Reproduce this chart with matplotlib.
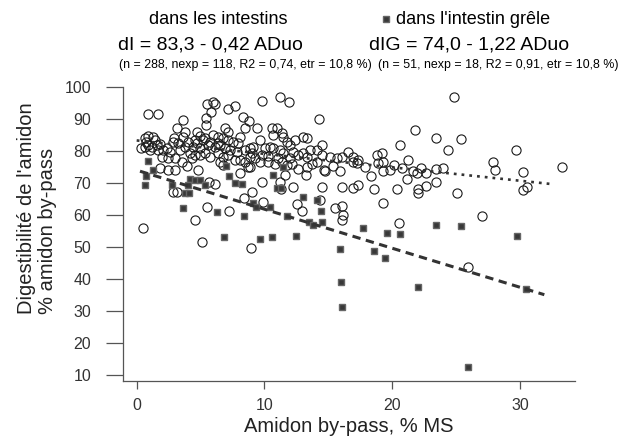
import matplotlib
matplotlib.use("Agg")
import matplotlib.pyplot as plt
from matplotlib.lines import Line2D

plt.rcParams['font.family'] = ['Liberation Sans', 'DejaVu Sans']
plt.rcParams['lines.scale_dashes'] = False

# dans les intestins (open circles)
x_intestins = [
    0.88, 1.67, 5.5, 5.97, 6.13, 5.81, 5.42, 5.42, 7.14, 7.69, 8.32, 8.79, 8.47, 3.62, 3.78, 3.15,
    2.92, 4.72, 4.95, 4.56, 0.88, 1.28, 0.65, 1.43, 0.65, 0.88, 1.2, 1.59, 1.67, 2.37, 2.84, 3.23,
    3.62, 4.01, 4.41, 4.72, 4.95, 5.34, 5.58, 5.97, 6.36, 6.75, 6.13, 6.52, 6.91, 7.14, 7.54, 7.93,
    6.91, 7.14, 8.08, 8.47, 8.87, 4.17, 4.56, 4.95, 5.34, 5.73, 6.36, 6.75, 7.14, 7.69, 8.08, 8.47,
    8.87, 1.98, 2.45, 3.0, 3.54, 1.82, 2.45, 3.0, 3.94, 4.33, 4.8, 6.52, 6.75, 8.08, 8.71, 6.13,
    5.66, 2.84, 3.15, 5.5, 4.56, 7.22, 8.39, 9.02, 0.49, 5.11, 8.94, 0.34,
    0.74, 1.04, 1.82, 2.06, 2.6, 3.39, 3.78, 5.19, 5.73, 6.36, 7.3, 7.85, 9.26, 9.8, 10.28, 11.06,
    12.0, 13.56, 14.5,
    9.8, 11.21, 11.92, 14.26, 9.41, 10.59, 10.98, 10.67, 11.37, 11.45, 13.01, 13.32, 9.65, 12.39,
    11.76, 12.0, 9.1, 9.02, 10.04, 10.43, 10.67, 11.21, 11.45, 12.23, 12.62, 13.01, 13.33, 14.1,
    14.5, 15.13, 15.67, 16.06, 16.54, 16.93, 17.32, 17.86, 18.8, 19.2, 19.27, 18.88, 9.65, 10.28,
    10.82, 11.37, 11.76, 12.15, 12.62, 13.32, 13.71, 14.1, 14.74, 15.38, 15.91, 16.93, 17.24, 18.33,
    8.87, 11.6, 13.25, 9.8, 12.23, 11.21, 11.29, 14.5, 16.06, 16.93, 17.32, 18.57, 19.27, 9.89,
    12.54, 12.93, 14.34, 15.52, 16.06, 16.14, 16.06, 14.67,
    24.86, 21.78, 23.42, 25.38, 20.6, 24.36, 29.69, 20.13, 21.23, 20.76, 19.27, 19.82, 21.62, 21.94,
    22.26, 22.64, 23.42, 23.97, 21.15, 23.42, 22.64, 27.88, 28.04, 30.23, 20.37, 22.01, 22.01, 25.06,
    30.54, 30.23, 27.02, 20.52, 33.27, 25.92,
]
y_intestins = [
    91.6, 91.6, 94.7, 95.3, 94.8, 92.2, 90.3, 88.1, 93.1, 94.1, 90.5, 89.4, 87.2, 89.7, 85.9, 87.2,
    84.1, 85.9, 84.7, 83.4, 84.7, 84.4, 84.1, 83.4, 81.25, 81.9, 81.25, 81.9, 80.3, 80.9, 82.8, 82.5,
    84.4, 82.8, 81.25, 82.5, 80.9, 84.1, 81.9, 85.0, 84.4, 84.1, 81.25, 81.9, 80.9, 83.4, 82.8, 82.5,
    87.2, 85.9, 84.4, 80.3, 80.9, 79.4, 78.75, 78.75, 79.4, 78.1, 79.4, 78.1, 78.75, 77.2, 77.2, 76.6,
    78.1, 78.1, 77.8, 77.8, 76.6, 74.7, 74.1, 74.1, 75.3, 77.8, 74.1, 76.6, 75.6, 73.1, 75.0, 69.7,
    70.3, 67.2, 67.2, 62.5, 58.4, 61.25, 65.3, 67.2, 55.9, 51.6, 49.7, 80.9,
    82.8, 80.3, 82.2, 80.3, 79.7, 80.3, 81.25, 83.4, 82.8, 82.5, 80.3, 79.7, 77.8, 78.75, 78.4, 77.8,
    77.8, 80.3, 81.9,
    95.6, 96.9, 95.3, 90.0, 87.2, 87.2, 87.2, 85.0, 85.6, 84.4, 84.4, 84.1, 83.4, 83.4,
    82.8, 81.9, 81.25, 79.4, 80.9, 81.25, 80.9, 80.3, 79.4, 79.7, 78.75, 79.4, 78.1, 80.3,
    78.75, 78.1, 77.8, 78.1, 79.7, 78.1, 77.2, 75.0, 78.75, 79.4, 76.6, 76.25, 76.6, 76.6,
    75.9, 76.6, 75.6, 75.9, 74.4, 75.0, 75.9, 76.6, 73.75, 75.3, 73.75, 76.6, 76.25, 72.2,
    75.0, 72.5, 72.5, 70.3, 68.75, 70.3, 68.1, 68.75, 68.75, 68.4, 69.4, 68.1, 63.75, 64.1,
    63.4, 61.25, 64.7, 62.2, 62.8, 60.0, 58.4, 74.1,
    96.9, 86.6, 84.1, 83.75, 81.9, 80.3, 80.3, 75.6, 77.2, 74.7, 73.75, 74.1, 73.75, 73.1,
    74.7, 73.1, 74.4, 74.7, 71.25, 70.3, 69.1, 76.6, 74.1, 73.4, 68.1, 68.1, 66.9, 66.9,
    68.75, 67.8, 59.7, 57.5, 75.0, 43.75,
]

# dans l'intestin grele (filled markers)
x_grele = [
    0.88, 1.28, 0.73, 0.65, 2.76, 4.17, 4.56, 4.95, 4.01, 5.34, 3.78, 4.09, 3.62, 6.28, 6.99, 7.22,
    7.69, 8.24, 8.39, 6.83, 9.10, 9.34, 9.65, 10.59, 10.43, 10.67, 10.98, 11.29, 11.45, 11.76, 12.46,
    13.01, 13.48, 13.79, 14.1, 14.42, 14.5, 15.91, 15.99, 16.06, 17.71, 18.57, 19.43, 19.59, 20.6,
    22.01, 23.42, 25.38, 29.76, 30.46, 25.92,
]
y_grele = [
    76.9, 74.1, 72.2, 69.4, 69.4, 71.3, 70.9, 70.9, 69.4, 69.4, 66.9, 66.9, 62.2, 60.9, 75.3, 72.2,
    70.0, 69.7, 59.7, 53.1, 63.75, 62.5, 52.5, 53.1, 62.5, 72.5, 68.4, 68.4, 75.0, 59.7, 53.4,
    65.6, 57.8, 56.9, 64.7, 61.25, 57.8, 49.4, 39.1, 31.25, 55.9, 48.75, 46.6, 54.4, 54.1,
    37.5, 56.9, 56.6, 53.4, 36.9, 12.5,
]

# regressions
a_i, b_i = 83.3, -0.42
a_g, b_g = 74.0, -1.22
range_i = [0.0, 32.5]
range_g = [0.26, 31.9]

fig = plt.figure(figsize=(6.25, 4.37), dpi=100)
ax = fig.add_axes([0.1968, 0.1281, 0.7232, 0.6728])

ax.plot(x_intestins, y_intestins, linestyle='none', marker='o', markersize=6.6,
        markerfacecolor='none', markeredgecolor='#1a1a1a', markeredgewidth=0.8)
ax.plot(x_grele, y_grele, linestyle='none', marker='s', markersize=4.9,
        markerfacecolor='#383838', markeredgecolor='#666666', markeredgewidth=1.0)

ax.plot(range_i, [a_i + b_i * v for v in range_i], color='#333333', lw=1.9,
        dashes=[2, 3.6], solid_capstyle='butt')
ax.plot(range_g, [a_g + b_g * v for v in range_g], color='#333333', lw=2.2,
        dashes=[6, 4])

ax.set_xlim(-1.07, 34.3)
ax.set_ylim(8.1, 100)
ax.set_xticks([0, 10, 20, 30])
ax.set_yticks(range(10, 101, 10))
for s in ['top', 'right']:
    ax.spines[s].set_visible(False)
for s in ['left', 'bottom']:
    ax.spines[s].set_color('#555555')
    ax.spines[s].set_linewidth(0.9)
ax.tick_params(axis='y', direction='out', length=12, width=0.9, color='#555555',
               labelsize=11.5, labelcolor='#333333', pad=11)
ax.tick_params(axis='x', direction='out', length=6, width=0.9, color='#555555',
               labelsize=11.5, labelcolor='#333333', pad=6)

ax.set_xlabel('Amidon by-pass, % MS', fontsize=14.5, color='#222222', labelpad=3)
fig.text(37 / 625, 1 - 208 / 437, "Digestibilité de l'amidon\n% amidon by-pass",
         rotation=90, ha='center', va='center', multialignment='left',
         fontsize=14.5, color='#222222', linespacing=1.15)

# header
fig.text(218 / 625, 1 - 20 / 437, 'dans les intestins', ha='center', va='center', fontsize=13)
fig.text(210 / 625, 1 - 45 / 437, 'dI = 83,3 - 0,42 ADuo', ha='center', va='center', fontsize=14)
fig.text(245 / 625, 1 - 65 / 437, '(n = 288, nexp = 118, R2 = 0,74, etr = 10,8 %)',
         ha='center', va='center', fontsize=8.9)
fig.add_artist(Line2D([386 / 625], [1 - 19 / 437], marker='s', markersize=4.9,
                      markerfacecolor='#383838', markeredgecolor='#666666',
                      markeredgewidth=1.0, transform=fig.transFigure))
fig.text(396 / 625, 1 - 20 / 437, "dans l'intestin grêle", ha='left', va='center', fontsize=13)
fig.text(469 / 625, 1 - 45 / 437, 'dIG = 74,0 - 1,22 ADuo', ha='center', va='center', fontsize=14)
fig.text(498 / 625, 1 - 65 / 437, '(n = 51, nexp = 18, R2 = 0,91, etr = 10,8 %)',
         ha='center', va='center', fontsize=8.9)

fig.savefig('out.png', dpi=100)
